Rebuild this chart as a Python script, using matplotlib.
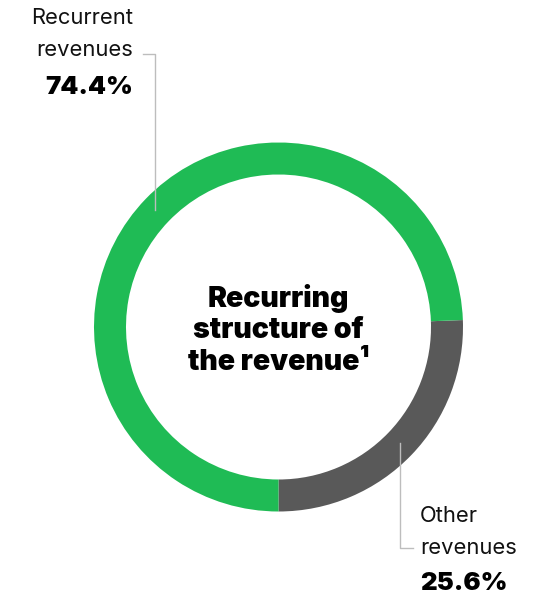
# Revenue structure donut

import matplotlib
matplotlib.use('Agg')
import matplotlib.pyplot as plt

labels = ['Other\nrevenues', 'Recurrent\nrevenues']
shares = [25.6, 74.4]
colors = ['#595959', '#1fbb55']

plt.rcParams['font.family'] = ['Inter', 'DejaVu Sans']

W, H = 553, 599
fig = plt.figure(figsize=(W/100, H/100), dpi=100)
ax = fig.add_axes([0, 0, 1, 1])

cx, cy, r = 278.5, H - 327, 184.5
ax.pie(shares, colors=colors, startangle=-90, counterclock=True,
       center=(cx, cy), radius=r, frame=True,
       wedgeprops=dict(width=32, linewidth=0))
ax.set_xlim(0, W)
ax.set_ylim(0, H)
ax.set_aspect('equal')
ax.axis('off')

# center title
ax.text(cx, H - 330, 'Recurring\nstructure of\nthe revenue¹', ha='center', va='center',
        fontsize=20.5, fontweight=900, linespacing=1.2, color='#000000')

# recurrent label + leader
ax.text(133, H - 34, labels[1], ha='right', va='center', fontsize=15.8,
        linespacing=1.72, color='#111111')
ax.text(133, H - 88, f'{shares[1]:.1f}%', ha='right', va='center',
        fontsize=18.5, fontweight=900, color='#000000')
ax.plot([143, 155, 155], [H - 54, H - 54, H - 210], color='#bdbdbd', lw=1)

# other label + leader
ax.text(420, H - 532, labels[0], ha='left', va='center', fontsize=15.8,
        linespacing=1.72, color='#111111')
ax.text(420, H - 583, f'{shares[0]:.1f}%', ha='left', va='center',
        fontsize=18.5, fontweight=900, color='#000000')
ax.plot([400, 400, 413], [H - 443, H - 548, H - 548], color='#bdbdbd', lw=1)

fig.savefig('out.png', dpi=100)
